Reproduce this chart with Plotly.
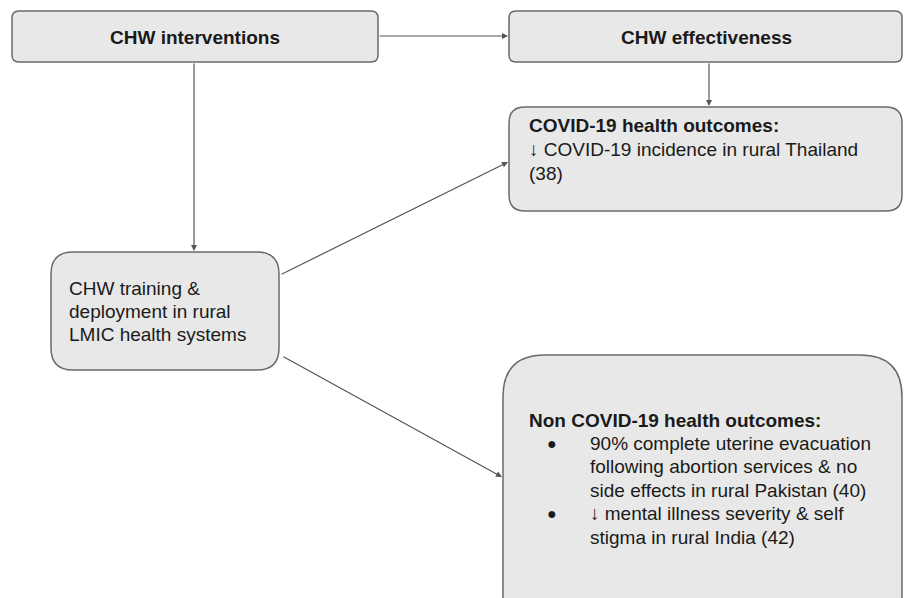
import plotly.graph_objects as go

# ---- content ----
header_labels = ["CHW interventions", "CHW effectiveness"]
training_lines = ["CHW training &", "deployment in rural", "LMIC health systems"]
covid_title = "COVID-19 health outcomes:"
covid_lines = ["↓ COVID-19 incidence in rural Thailand", "(38)"]
noncovid_title = "Non COVID-19 health outcomes:"
noncovid_bullets = [
    ["90% complete uterine evacuation", "following abortion services & no", "side effects in rural Pakistan (40)"],
    ["↓ mental illness severity & self", "stigma in rural India (42)"],
]

W, H = 904, 598
FILL = "#e8e8e8"
EDGE = "#6a6a6a"
LINE = "#555555"
FONT = "Liberation Sans, Arial, sans-serif"
FS = 19

fig = go.Figure()

def rrect(x0, y0, x1, y1, r):
    p = (f"M {x0+r},{y0} L {x1-r},{y0} Q {x1},{y0} {x1},{y0+r} "
         f"L {x1},{y1-r} Q {x1},{y1} {x1-r},{y1} L {x0+r},{y1} "
         f"Q {x0},{y1} {x0},{y1-r} L {x0},{y0+r} Q {x0},{y0} {x0+r},{y0} Z")
    fig.add_shape(type="path", path=p, fillcolor=FILL,
                  line=dict(color=EDGE, width=1.5), layer="below")

rrect(12, 11, 378, 62, 7)
rrect(509, 11, 902, 62, 7)
rrect(509, 107, 902, 211, 16)
rrect(51, 252, 279, 370, 22)
rrect(503, 355, 902, 640, 42)

def arrow(x0, y0, x1, y1):
    fig.add_annotation(x=x1, y=y1, ax=x0, ay=y0, xref="x", yref="y",
                       axref="x", ayref="y", showarrow=True, text="",
                       arrowhead=2, arrowsize=1, arrowwidth=1.2,
                       arrowcolor=LINE, standoff=0, startstandoff=0)

arrow(378, 36, 508, 36)
arrow(709, 62, 709, 106)
arrow(194, 62, 194, 251)
arrow(280, 275, 508, 162)
arrow(282, 356, 502, 477)

def txt(x, y, s, bold=False, size=FS, anchor="left"):
    fig.add_annotation(x=x, y=y, xref="x", yref="y", text=f"<b>{s}</b>" if bold else s,
                       showarrow=False, xanchor=anchor, yanchor="middle",
                       font=dict(family=FONT, size=size, color="#1a1a1a"))

txt(195, 37, header_labels[0], bold=True, anchor="center")
txt(706, 37, header_labels[1], bold=True, anchor="center")

txt(527, 125, covid_title, bold=True)
for i, s in enumerate(covid_lines):
    txt(527, 149 + i * 24, s)

for i, s in enumerate(training_lines):
    txt(67, 288 + i * 23, s)

txt(527, 420, noncovid_title, bold=True)
y = 443
for item in noncovid_bullets:
    txt(552, y, "●", size=16, anchor="center")
    for s in item:
        txt(588, y, s)
        y += 23.5

fig.update_xaxes(range=[0, W], visible=False, fixedrange=True)
fig.update_yaxes(range=[H, 0], visible=False, fixedrange=True)
fig.update_layout(width=W, height=H, margin=dict(l=0, r=0, t=0, b=0),
                  paper_bgcolor="white", plot_bgcolor="white", showlegend=False)

fig.write_html("out.html", config={"displayModeBar": False},
               post_script="document.body.style.margin='0';document.body.style.overflow='hidden';")
